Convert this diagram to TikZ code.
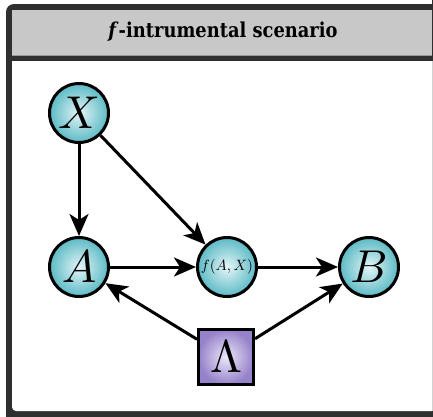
\documentclass[tikz,border=0pt]{standalone}
\usepackage{fontspec}
\setmainfont{DejaVu Serif}
\usetikzlibrary{arrows.meta}
\definecolor{framedark}{HTML}{2F2F2F}
\definecolor{titlegray}{HTML}{C8C8C8}
\definecolor{tealout}{RGB}{92,186,197}
\definecolor{tealin}{RGB}{228,245,247}
\definecolor{lavout}{RGB}{150,130,202}
\definecolor{lavin}{RGB}{236,232,248}
\newcommand{\BigVar}[1]{\scalebox{4.6}{$#1$}}
\tikzset{
  varnode/.style={circle, draw=black, line width=3pt, minimum size=59pt, inner sep=0pt,
    inner color=tealin, outer color=tealout},
  latentnode/.style={rectangle, draw=black, line width=3pt, minimum size=55pt, inner sep=0pt,
    inner color=lavin, outer color=lavout},
  arr/.style={line width=3pt, -{Stealth[length=22pt,width=19pt,inset=6pt]}},
}
\begin{document}
\begin{tikzpicture}[x=1pt,y=-1pt]
\useasboundingbox (0,0) rectangle (433,416);
\begin{scope}
\clip (0,0) rectangle (433,416);
% frame
\fill[framedark, rounded corners=8pt] (6,4) rectangle (450,430);
\fill[white, rounded corners=4pt] (12,61) rectangle (440,411);
\fill[white] (12,61) rectangle (440,300);
\fill[white] (200,61) rectangle (440,411);
\fill[titlegray] (12,10) rectangle (432,56);
\draw[gray!80, line width=1pt] (12,55.5) -- (432,55.5);
\fill[framedark] (432,0) rectangle (433,61);
\fill[gray!35] (432,61) rectangle (433,411);
\fill[framedark] (432,411) rectangle (433,416);
\end{scope}
\node (title) at (223,32) {\scalebox{1}[1.15]{\resizebox{229pt}{!}{\bfseries\textit{f}-intrumental scenario}}};
% nodes
\node[varnode] (X) at (79,113) {\BigVar{X}};
\node[varnode] (A) at (79,267) {\BigVar{A}};
\node[varnode] (F) at (227,267) {\scalebox{1.5}{$f(A,X)$}};
\node[varnode] (B) at (369,267) {\BigVar{B}};
\node[latentnode] (L) at (226,357) {\BigVar{\Lambda}};
% edges
\draw[arr] (X) -- (A);
\draw[arr] (X) -- (F);
\draw[arr] (A) -- (F);
\draw[arr] (F) -- (B);
\draw[arr] (L) -- (A);
\draw[arr] (L) -- (B);
\end{tikzpicture}
\end{document}
